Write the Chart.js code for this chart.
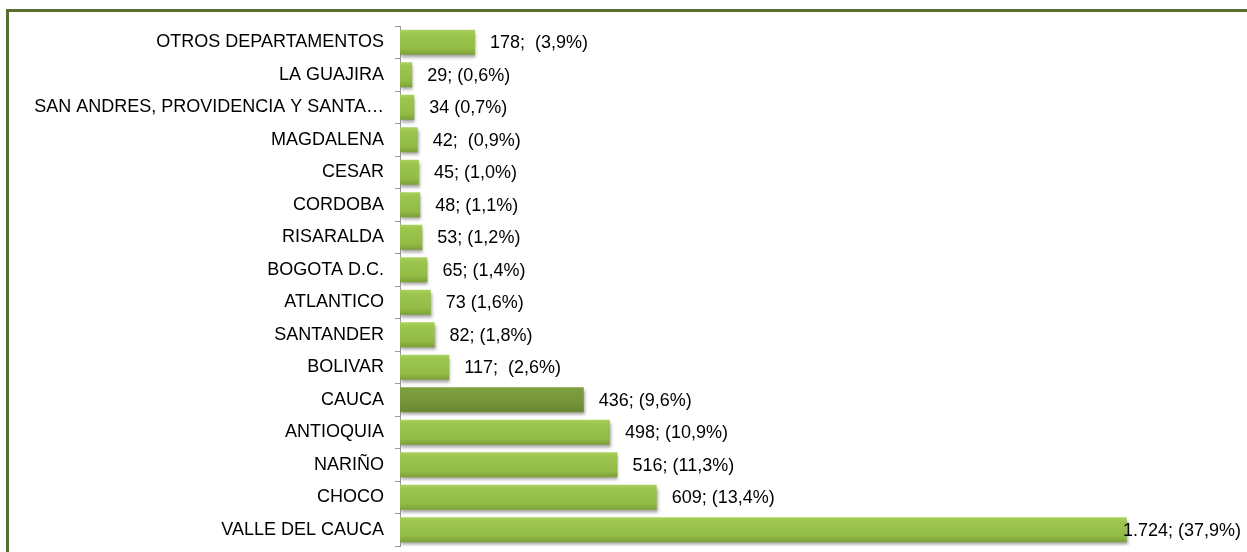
<!DOCTYPE html>
<html>
<head>
<meta charset="utf-8">
<script src="https://cdn.jsdelivr.net/npm/chart.js@4"></script>
<style>
  body { margin: 0; background: #fff; }
  #wrap { position: relative; width: 1247px; height: 552px; overflow: hidden; }
  #frame { position: absolute; left: 6px; top: 9px; width: 1250px; height: 600px;
           border-top: 3px solid #586d30; border-left: 3px solid #586d30; }
  #chart { position: absolute; left: 0; top: 0; }
</style>
</head>
<body>
<div id="wrap">
  <div id="frame"></div>
  <canvas id="chart" width="1247" height="552"></canvas>
</div>
<script>
// data
const departamentos = ['OTROS DEPARTAMENTOS', 'LA GUAJIRA', 'SAN ANDRES, PROVIDENCIA Y SANTA\u2026',
    'MAGDALENA', 'CESAR', 'CORDOBA', 'RISARALDA', 'BOGOTA D.C.', 'ATLANTICO', 'SANTANDER',
    'BOLIVAR', 'CAUCA', 'ANTIOQUIA', 'NARIÑO', 'CHOCO', 'VALLE DEL CAUCA'];
const casos = [178, 29, 34, 42, 45, 48, 53, 65, 73, 82, 117, 436, 498, 516, 609, 1724];
const etiquetas = ['178;  (3,9%)', '29; (0,6%)', '34 (0,7%)', '42;  (0,9%)', '45; (1,0%)',
    '48; (1,1%)', '53; (1,2%)', '65; (1,4%)', '73 (1,6%)', '82; (1,8%)', '117;  (2,6%)',
    '436; (9,6%)', '498; (10,9%)', '516; (11,3%)', '609; (13,4%)', '1.724; (37,9%)'];
const destacado = 'CAUCA';

const FONT = 'Liberation Sans, Arial, sans-serif';

//base colour (a function so each bar keeps its own options)
function barColor(context){
    return departamentos[context.dataIndex] === destacado ? '#76963a' : '#97c14a';
}

//vertical gradient + shadow, using each bar's own position
const barLook = {
    id: 'barLook',
    beforeDatasetDraw(chart){
        const ctx = chart.ctx;
        chart.getDatasetMeta(0).data.forEach(function(bar, i){
            const top = bar.y - bar.height / 2;
            const bottom = bar.y + bar.height / 2;
            if (!isFinite(top) || !isFinite(bottom)) return;
            const g = ctx.createLinearGradient(0, top, 0, bottom);
            if (departamentos[i] === destacado) {
                g.addColorStop(0, '#80a140');
                g.addColorStop(0.5, '#76963a');
                g.addColorStop(1, '#6a8832');
            } else {
                g.addColorStop(0, '#abd260');
                g.addColorStop(0.15, '#9dc64f');
                g.addColorStop(0.75, '#93bc46');
                g.addColorStop(1, '#7c9f37');
            }
            bar.options.backgroundColor = g;
        });
        ctx.save();
        ctx.shadowColor = 'rgba(0,0,0,0.35)';
        ctx.shadowBlur = 3;
        ctx.shadowOffsetX = 1;
        ctx.shadowOffsetY = 3;
    },
    afterDatasetDraw(chart){
        chart.ctx.restore();
    }
};

//value labels to the right of each bar
const valueLabels = {
    id: 'valueLabels',
    afterDatasetsDraw(chart){
        const ctx = chart.ctx;
        const meta = chart.getDatasetMeta(0);
        ctx.save();
        ctx.font = '18px ' + FONT;
        ctx.fillStyle = '#000';
        ctx.textBaseline = 'middle';
        ctx.textAlign = 'left';
        meta.data.forEach(function(bar, i){
            const w = ctx.measureText(etiquetas[i]).width;
            const x = Math.min(bar.x + 15, chart.width - 6 - w);
            ctx.fillText(etiquetas[i], x, bar.y + 1);
        });
        ctx.restore();
    }
};

const chart = new Chart(document.getElementById('chart'), {
    type: 'bar',
    data: {
        labels: departamentos,
        datasets: [{
            data: casos,
            backgroundColor: barColor,
            borderWidth: 0,
            barPercentage: 0.77,
            categoryPercentage: 1
        }]
    },
    options: {
        indexAxis: 'y',
        responsive: false,
        animation: false,
        events: [],
        layout: { padding: { left: 0, right: 4, top: 26, bottom: 6 } },
        plugins: {
            legend: { display: false },
            tooltip: { enabled: false }
        },
        scales: {
            x: {
                display: false,
                min: 0,
                max: 2000
            },
            y: {
                afterFit(scale){
                    scale.width = 400;
                    scale.paddingTop = 0;
                    scale.paddingBottom = 0;
                },
                border: { color: '#9a9a9a', width: 1 },
                grid: { offset: true, drawOnChartArea: false, tickLength: 5, color: '#9a9a9a' },
                ticks: {
                    color: '#000',
                    padding: 11,
                    autoSkip: false,
                    font: { family: FONT, size: 18 }
                }
            }
        }
    },
    plugins: [barLook, valueLabels]
});
</script>
</body>
</html>
